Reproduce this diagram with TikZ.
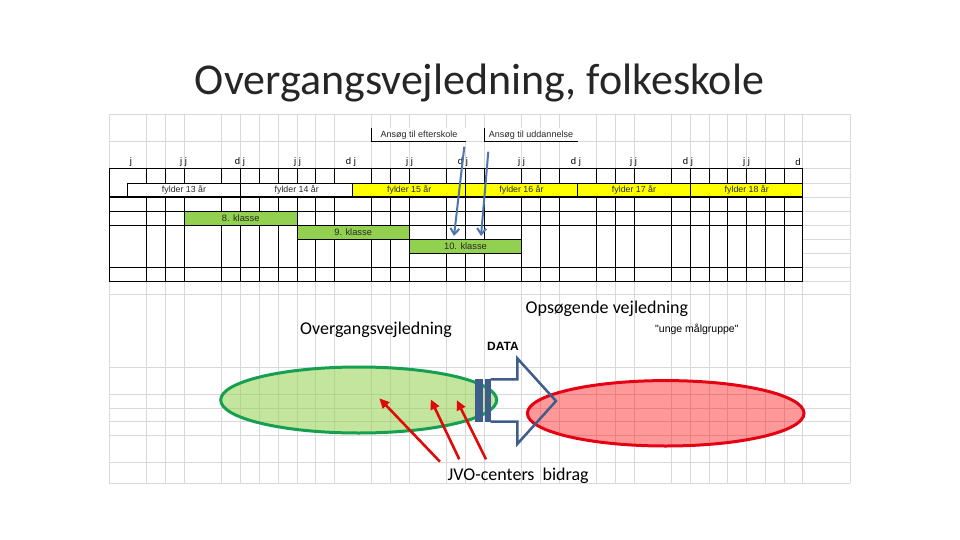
\documentclass[tikz,border=0pt]{standalone}
\usepackage{fontspec}
\setmainfont{Carlito}
\newfontfamily\xlfont{Liberation Sans}
\usetikzlibrary{arrows.meta,shapes.geometric}

\definecolor{gridgray}{RGB}{217,217,217}
\definecolor{xlyellow}{RGB}{255,255,0}
\definecolor{xlgreen}{RGB}{146,208,80}
\definecolor{arrblue}{RGB}{79,118,170}
\definecolor{datablue}{RGB}{62,92,140}
\definecolor{ovgreen}{RGB}{20,160,80}
\definecolor{opsred}{RGB}{230,0,20}
\definecolor{jvored}{RGB}{225,10,10}
\definecolor{xltext}{RGB}{40,40,40}

\tikzset{
  gridline/.style={draw=gridgray, line width=0.7pt},
  tline/.style={draw=black, line width=0.8pt},
  fylderbox/.style={draw=black, line width=0.8pt, inner sep=0pt, outer sep=0pt,
    minimum height=14.3pt, text=xltext, font=\xlfont\fontsize{8.8}{9}\selectfont},
  klassebox/.style={draw=black, line width=0.8pt, fill=xlgreen, inner sep=0pt, outer sep=0pt,
    minimum height=14pt, text=xltext, font=\xlfont\fontsize{9.3}{10}\selectfont},
  ansogtext/.style={inner sep=0pt, text=xltext, font=\xlfont\fontsize{9}{10}\selectfont},
  markertext/.style={inner sep=0pt, font=\xlfont\fontsize{9.5}{10}\selectfont},
  bluearrow/.style={draw=arrblue, line width=2pt, -{Straight Barb[length=6pt,width=9pt]}},
  redarrow/.style={draw=jvored, line width=2.6pt, -{Triangle[length=10pt,width=9pt]}},
  biglabel/.style={inner sep=0pt, anchor=base west, font=\fontsize{18}{21}\selectfont}
}

\begin{document}
\begin{tikzpicture}[x=1pt,y=-1pt]
\useasboundingbox (0,0) rectangle (960,540);
\fill[white] (0,0) rectangle (960,540);

% title
\node[inner sep=0pt, anchor=base, text=black!85, font=\fontsize{44}{50}\selectfont] (title) at (479.5,95) {Overgangsvejledning, folkeskole};

% background grid
\foreach \x in {109.3,146.3,165.3,184.3,221.7,240.7,259.7,278.7,297,315.3,334.3,371.7,390.7,409.3,446.7,465.7,484.3,521.7,540.3,559.3,596.7,615.7,634.3,671.7,690.7,709.3,727.3,746.7,765.7,784.3,802.7,850}
  \draw[gridline] (\x,114.3) -- (\x,483);
\foreach \y in {114.3,141.3,168.3,183,197.3,211,225,239.3,253.3,267.3,281.3,294.3,367.5,394.5,408.3,421.5,435.3,462.5,483}
  \draw[gridline] (109.3,\y) -- (850,\y);

% table
\fill[white] (109.3,168.3) rectangle (802.7,281.3);
\foreach \x in {109.3,146.3,165.3,184.3,221.7,240.7,259.7,278.7,297,315.3,334.3,371.7,390.7,409.3,446.7,465.7,484.3,521.7,540.3,559.3,596.7,615.7,634.3,671.7,690.7,709.3,727.3,746.7,765.7,784.3,802.7}
  {\draw[tline] (\x,168.3) -- (\x,183); \draw[tline] (\x,197.3) -- (\x,281.3);}
\draw[tline] (109.3,183) -- (109.3,197.3);
\foreach \y in {168.3,211,225,267.3,281.3}
  \draw[tline] (109.3,\y) -- (802.7,\y);

% fylder row
\node[fylderbox, fill=white, minimum width=113.4pt] (f13) at (184.0,190.15) {fylder 13 år};
\node[fylderbox, fill=white, minimum width=112pt] (f14) at (296.7,190.15) {fylder 14 år};
\node[fylderbox, fill=xlyellow, minimum width=113pt] (f15) at (409.2,190.15) {fylder 15 år};
\node[fylderbox, fill=xlyellow, minimum width=111.6pt] (f16) at (521.5,190.15) {fylder 16 år};
\node[fylderbox, fill=xlyellow, minimum width=113.4pt] (f17) at (634.0,190.15) {fylder 17 år};
\node[fylderbox, fill=xlyellow, minimum width=112pt] (f18) at (746.7,190.15) {fylder 18 år};
\draw[draw=black, line width=1.8pt] (109.3,197.3) -- (802.7,197.3);

% classes
\node[klassebox, minimum width=112.7pt] (k8) at (240.65,218) {8. klasse};
\node[klassebox, minimum width=112.3pt, minimum height=14.3pt] (k9) at (353.15,232.15) {9. klasse};
\node[klassebox, minimum width=112.4pt] (k10) at (465.5,246.3) {10. klasse};

% markers
\node[markertext] (m1) at (131,162) {j};
\node[markertext] (m2) at (183.5,162) {j j};
\node[markertext] (m3) at (240,162) {d j};
\node[markertext] (m4) at (297.5,162) {j j};
\node[markertext] (m5) at (351,162) {d j};
\node[markertext] (m6) at (409.5,162) {j j};
\node[markertext] (m7) at (463,162) {d j};
\node[markertext] (m8) at (521.5,162) {j j};
\node[markertext] (m9) at (576,162) {d j};
\node[markertext] (m10) at (633.5,162) {j j};
\node[markertext] (m11) at (688,162) {d j};
\node[markertext] (m12) at (746.5,162) {j j};
\node[markertext] (m13) at (798,162) {d};

% application cells
\fill[white] (371.7,128.3) rectangle (465.7,141.3);
\fill[white] (484.3,128.3) rectangle (578,141.3);
\draw[tline] (371.7,128.3) -- (371.7,141.3) -- (465.7,141.3);
\draw[tline] (484.3,128.3) -- (484.3,141.3) -- (578,141.3);
\node[ansogtext] (ae) at (419,135.5) {Ansøg til efterskole};
\node[ansogtext] (au) at (531,135.5) {Ansøg til uddannelse};

% blue arrows
\coordinate (bs1) at (464.3,146.7);
\coordinate (be1) at (454,236);
\coordinate (bs2) at (488.3,151.7);
\coordinate (be2) at (481,236);
\draw[bluearrow] (bs1) -- (be1);
\draw[bluearrow] (bs2) -- (be2);

% ellipses
\node[ellipse, draw=ovgreen, line width=3pt, fill=xlgreen, fill opacity=0.55,
  minimum width=276pt, minimum height=66pt, inner sep=0pt] (ov) at (358.7,400) {};
\node[ellipse, draw=opsred, line width=3pt, fill=red, fill opacity=0.4,
  minimum width=276.6pt, minimum height=65.4pt, inner sep=0pt] (op) at (665.7,413.3) {};

% DATA striped block arrow
\fill[datablue] (475,379.3) rectangle (483.3,421.7);
\fill[datablue] (485,379.3) rectangle (490.7,421.7);
\draw[datablue, line width=2.5pt, line join=miter]
  (490.7,379.3) -- (517.3,379.3) -- (517.3,358.3) -- (556,401) -- (517.3,444) -- (517.3,421.7) -- (490.7,421.7);

% labels
\node[biglabel] (lov) at (300,334) {Overgangsvejledning};
\node[biglabel] (lop) at (525.5,313.3) {Opsøgende vejledning};
\node[biglabel] (jvo) at (447.5,480) {JVO-centers\ \ bidrag};
\node[inner sep=0pt, anchor=base west, font=\xlfont\bfseries\fontsize{12}{13}\selectfont] (data) at (487,350.5) {DATA};
\node[inner sep=0pt, anchor=base west, font=\xlfont\fontsize{10.5}{11}\selectfont] (unge) at (655,332) {"unge målgruppe"};

% red arrows
\coordinate (rs1) at (440,461.7);
\coordinate (re1) at (379.3,398.3);
\coordinate (rs2) at (459.3,459.3);
\coordinate (re2) at (430.7,399.3);
\coordinate (rs3) at (486,459.3);
\coordinate (re3) at (456.7,400);
\draw[redarrow] (rs1) -- (re1);
\draw[redarrow] (rs2) -- (re2);
\draw[redarrow] (rs3) -- (re3);
\end{tikzpicture}
\end{document}
